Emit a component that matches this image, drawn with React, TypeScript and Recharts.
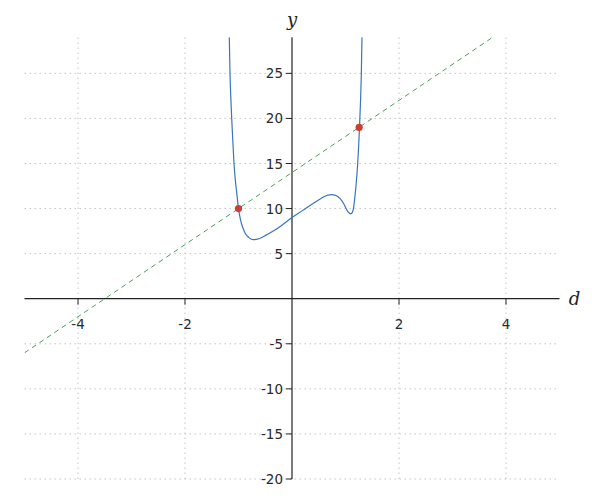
import { ComposedChart, Line, Scatter, XAxis, YAxis, ReferenceLine, ReferenceDot } from "recharts"

// curve
const curveX = [-1.172, -1.159, -1.145, -1.127, -1.106, -1.084, -1.06, -1.034, -1.0, -0.96, -0.92, -0.87, -0.8, -0.72, -0.62, -0.5, -0.35, -0.2, 0, 0.2, 0.4, 0.55, 0.65, 0.74, 0.82, 0.9, 0.97, 1.03, 1.07, 1.1, 1.125, 1.146, 1.17, 1.196, 1.228, 1.262, 1.28, 1.296, 1.308]
const curveY = [29, 25, 22.5, 20, 17.5, 15, 13.2, 11.8, 10, 8.7, 7.9, 7.2, 6.75, 6.55, 6.65, 7.0, 7.5, 8.1, 9.0, 9.8, 10.6, 11.15, 11.45, 11.55, 11.45, 11.1, 10.5, 9.8, 9.5, 9.42, 9.55, 9.9, 11.0, 12.5, 15.0, 19.0, 21.8, 25.0, 29.0]

const lineX = [-5, 3.75]
const lineY = [-6, 29]

const pointX = [-1, 1.255]
const pointY = [10, 19]

const xTicks = [-4, -2, 2, 4]
const yTicks = [-20, -15, -10, -5, 5, 10, 15, 20, 25]

const curve = curveX.map((x, i) => ({ x, y: curveY[i] }))
const secant = lineX.map((x, i) => ({ x, y: lineY[i] }))
const points = pointX.map((x, i) => ({ x, y: pointY[i] }))

const font = "'DejaVu Sans', sans-serif"
const axisColor = "#222"
const gridColor = "#c4c4c4"

const xTick = (v: number) => (p: any) => (
  <g>
    <line x1={p.cx} y1={p.cy} x2={p.cx} y2={p.cy + 6} stroke={axisColor} />
    <text x={p.cx} y={p.cy + 30.5} textAnchor="middle" fontSize={13.5} fontFamily={font} fill="#2a2a2a">{v}</text>
  </g>
)

const yTick = (v: number) => (p: any) => (
  <g>
    <line x1={p.cx - 6} y1={p.cy} x2={p.cx} y2={p.cy} stroke={axisColor} />
    <text x={p.cx - 9} y={p.cy + 5} textAnchor="end" fontSize={13.5} fontFamily={font} fill="#2a2a2a">{v}</text>
  </g>
)

const yName = (p: any) => (
  <text x={p.cx} y={p.cy - 11} textAnchor="middle" fontSize={18} fontStyle="italic" fontFamily="'DejaVu Serif', serif" fill="#222">y</text>
)

const xName = (p: any) => (
  <text x={p.cx + 15} y={p.cy + 6} textAnchor="middle" fontSize={18} fontStyle="italic" fontFamily="'DejaVu Serif', serif" fill="#222">d</text>
)

export default function App() {
  return (
    <div style={{ position: "absolute", left: 0, top: 0, width: 600, height: 500, background: "#fff" }}>
      <ComposedChart width={600} height={500} margin={{ top: 37.3, right: 40.5, bottom: 21, left: 24.5 }}>
        <XAxis type="number" dataKey="x" domain={[-5, 5]} hide allowDataOverflow />
        <YAxis type="number" dataKey="y" domain={[-20, 29]} hide allowDataOverflow />
        {xTicks.map((t) => (
          <ReferenceLine key={"gx" + t} x={t} stroke={gridColor} strokeDasharray="1.5 3.5" />
        ))}
        {yTicks.map((t) => (
          <ReferenceLine key={"gy" + t} y={t} stroke={gridColor} strokeDasharray="1.5 3.5" />
        ))}
        <ReferenceLine y={0} stroke={axisColor} strokeWidth={1.2} />
        <ReferenceLine x={0} stroke={axisColor} strokeWidth={1.2} />
        {xTicks.map((t) => (
          <ReferenceDot key={"tx" + t} x={t} y={0} r={0} ifOverflow="visible" shape={xTick(t)} />
        ))}
        {yTicks.map((t) => (
          <ReferenceDot key={"ty" + t} x={0} y={t} r={0} ifOverflow="visible" shape={yTick(t)} />
        ))}
        <ReferenceDot x={0} y={29} r={0} ifOverflow="visible" shape={yName} />
        <ReferenceDot x={5} y={0} r={0} ifOverflow="visible" shape={xName} />
        <Line data={secant} dataKey="y" type="linear" stroke="#4a9d5b" strokeWidth={1} strokeDasharray="5 4" dot={false} isAnimationActive={false} />
        <Line data={curve} dataKey="y" type="monotone" stroke="#3874c0" strokeWidth={1.2} dot={false} isAnimationActive={false} />
        <Scatter data={points} dataKey="y" fill="#cc3d35" isAnimationActive={false} shape={(p: any) => <circle cx={p.cx} cy={p.cy} r={3.6} fill="#cc3d35" />} />
      </ComposedChart>
    </div>
  )
}
